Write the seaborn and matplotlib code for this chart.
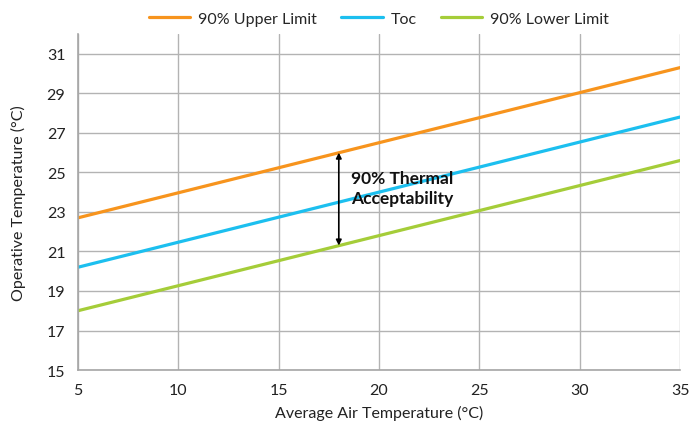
import matplotlib
matplotlib.use("Agg")
import matplotlib.pyplot as plt
import seaborn as sns
import pandas as pd

air_temp = [5, 35]
upper_limit = [22.7, 30.3]
toc = [20.2, 27.8]
lower_limit = [18.0, 25.6]
series_names = ["90% Upper Limit", "Toc", "90% Lower Limit"]
colors = ["#F7941D", "#1CBFEF", "#A5CD39"]
x_ticks = [5, 10, 15, 20, 25, 30, 35]
y_ticks = [15, 17, 19, 21, 23, 25, 27, 29, 31]

sns.set_style("white")
plt.rcParams['font.family'] = ['Lato', 'DejaVu Sans']

df = pd.DataFrame({
    "x": air_temp * 3,
    "y": upper_limit + toc + lower_limit,
    "series": [series_names[0]] * 2 + [series_names[1]] * 2 + [series_names[2]] * 2,
})

fig = plt.figure(figsize=(6.89, 4.27), dpi=100)
ax = fig.add_axes([0.113, 0.131, 0.874, 0.787])
sns.lineplot(data=df, x="x", y="y", hue="series", hue_order=series_names,
             palette=colors, linewidth=2.3, ax=ax)

ax.set_xlim(5, 35)
ax.set_ylim(15, 32)
ax.set_xticks(x_ticks)
ax.set_yticks(y_ticks)
ax.grid(True, color="#B3B3B3", linewidth=1)
ax.set_axisbelow(True)
for s in ["top", "right"]:
    ax.spines[s].set_visible(False)
for s in ["left", "bottom"]:
    ax.spines[s].set_color("#A6A6A6")
    ax.spines[s].set_linewidth(1.2)
ax.tick_params(axis="both", length=0, labelsize=11.5, colors="#222222", pad=9)
ax.set_xlabel("Average Air Temperature (°C)", fontsize=11.5, color="#222222", labelpad=6)
ax.set_ylabel("Operative Temperature (°C)", fontsize=11.5, color="#222222", labelpad=15)

ax.legend(loc="lower center", bbox_to_anchor=(0.5, 1.0), ncol=3, frameon=False,
          fontsize=11.5, handlelength=2.6, columnspacing=1.5, handletextpad=0.5,
          borderaxespad=0.1)

ax.annotate("", xy=(18, 26.0), xytext=(18, 21.3),
            arrowprops=dict(arrowstyle="<|-|>", color="black", lw=1.2,
                            mutation_scale=8, shrinkA=0, shrinkB=0))
ax.text(18.6, 24.2, "90% Thermal\nAcceptability", fontsize=12.5, fontweight="bold",
        va="center", ha="left", color="#111111", linespacing=1.35)

fig.savefig("out.png", dpi=100)
